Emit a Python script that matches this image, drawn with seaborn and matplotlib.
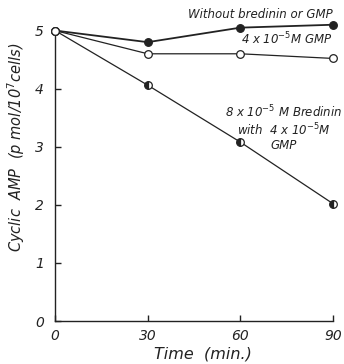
import matplotlib
matplotlib.use("Agg")
import matplotlib.pyplot as plt
import seaborn as sns
import pandas as pd

time = [0, 30, 60, 90]
control = [5.0, 4.8, 5.05, 5.1]
gmp = [5.0, 4.6, 4.6, 4.52]
bredinin_gmp = [5.0, 4.06, 3.08, 2.02]

xticks = [0, 30, 60, 90]
yticks = [0, 1, 2, 3, 4, 5]

sns.set_theme(style="ticks")
plt.rcParams['font.family'] = ['DejaVu Sans']

fig = plt.figure(figsize=(3.44, 3.64), dpi=100)
ax = fig.add_axes([0.16, 0.118, 0.808, 0.83])

df = pd.DataFrame({"time": time, "control": control, "gmp": gmp, "bred": bredinin_gmp})

sns.lineplot(data=df, x="time", y="bred", ax=ax, color="#222222", lw=0.9,
             marker="o", markersize=5.5, markerfacecolor="#222222",
             markerfacecoloralt="white", fillstyle="left",
             markeredgecolor="#222222", markeredgewidth=0.9, clip_on=False, zorder=3)
sns.lineplot(data=df, x="time", y="control", ax=ax, color="#222222", lw=1.3,
             marker="o", markersize=5.5, markerfacecolor="#222222",
             markeredgecolor="#222222", markeredgewidth=0.9, clip_on=False, zorder=4)
sns.lineplot(data=df, x="time", y="gmp", ax=ax, color="#222222", lw=0.9,
             marker="o", markersize=5.5, markerfacecolor="white",
             markeredgecolor="#222222", markeredgewidth=0.9, clip_on=False, zorder=5)

ax.set_xlim(0, 90)
ax.set_ylim(0, 5.2)
ax.spines["left"].set_bounds(0, 5)
ax.spines["top"].set_visible(False)
ax.spines["right"].set_visible(False)
for s in ("left", "bottom"):
    ax.spines[s].set_color("#222222")
    ax.spines[s].set_linewidth(1.0)
ax.set_xticks(xticks)
ax.set_yticks(yticks)
ax.set_xticklabels([str(v) for v in xticks], fontsize=10, style="italic")
ax.set_yticklabels([str(v) for v in yticks], fontsize=10, style="italic")
ax.tick_params(axis="x", direction="in", length=4, width=1, color="#222222", labelcolor="#222222", pad=6)
ax.tick_params(axis="y", direction="in", length=4, width=1, color="#222222", labelcolor="#222222", pad=8)

ax.set_xlabel("Time  (min.)", fontsize=11.5, style="italic", color="#222222")
ax.set_ylabel("Cyclic  AMP  (p mol/10$^7$cells)", fontsize=10.5, style="italic",
              color="#222222")
ax.xaxis.set_label_coords(0.532, -0.085)
ax.yaxis.set_label_coords(-0.10, 0.574)

ax.text(90, 5.27, "Without bredinin or GMP", ha="right", va="center",
        fontsize=8.5, style="italic", color="#222222")
ax.text(90, 4.86, "4 x 10$^{-5}$M GMP", ha="right", va="center",
        fontsize=8.5, style="italic", color="#222222")
ax.text(74, 3.33, "8 x 10$^{-5}$ M Bredinin\nwith  4 x 10$^{-5}$M\nGMP", ha="center", va="center",
        fontsize=8.5, style="italic", color="#222222", linespacing=1.1)

fig.savefig("out.png", dpi=100)
